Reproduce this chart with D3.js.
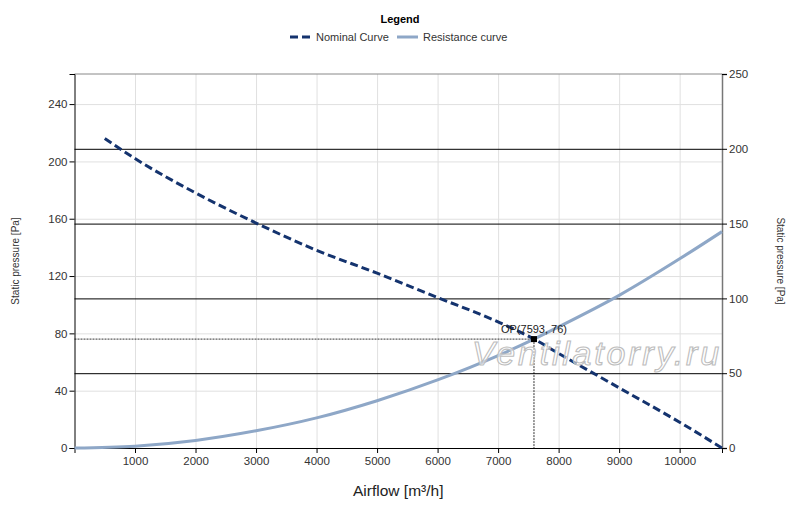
<html>
<head>
<script src="https://d3js.org/d3.v7.min.js"></script>
<style>
  body { margin: 0; background: #fff; }
  text { font-family: "Liberation Sans", Arial, sans-serif; }
  .tick text { fill: #333; font-size: 11.5px; }
  .grid line { stroke: #e0e0e0; }
  .grid .domain { stroke: none; }
  .major line { stroke: #000; }
  .major .domain { stroke: none; }
</style>
</head>
<body>
<svg id="chart" width="800" height="507"></svg>
<script>
// airflow [m3/h] and static pressure [Pa]
const nominalFlow = [500, 1000, 2000, 3000, 4000, 5000, 6000, 7000, 7593, 8000, 9000, 10000, 10700];
const nominalPressure = [216, 202, 178, 157, 138, 122, 105, 88, 76, 66, 42, 18, 0];
const resistanceFlow = [0, 1000, 2000, 3000, 4000, 5000, 6000, 7000, 7593, 8000, 9000, 10000, 10700];
const resistancePressure = [0, 1.3, 5.3, 12, 21, 33, 47.5, 64.5, 76, 84.5, 106.5, 132, 151];
const opPoint = {flow: 7593, pressure: 76};
const xTicks = [1000, 2000, 3000, 4000, 5000, 6000, 7000, 8000, 9000, 10000];
const leftTicks = [0, 40, 80, 120, 160, 200, 240];
const rightTicks = [0, 50, 100, 150, 200, 250];

const svg = d3.select("#chart");
const margin = {top: 74, right: 78, bottom: 59, left: 74.5};
const width = 800 - margin.left - margin.right;
const height = 507 - margin.top - margin.bottom;

const x = d3.scaleLinear().domain([0, 10700]).range([0, width]);
const yLeft = d3.scaleLinear().domain([0, 261]).range([height, 0]);
const yRight = d3.scaleLinear().domain([0, 250]).range([height, 0]);

const g = svg.append("g").attr("transform", `translate(${margin.left},${margin.top})`);

// light gridlines
g.append("g").attr("class", "grid")
  .attr("transform", `translate(0,${height})`)
  .call(d3.axisBottom(x).tickValues(xTicks).tickSize(-height).tickFormat(""));
g.append("g").attr("class", "grid")
  .call(d3.axisLeft(yLeft).tickValues(leftTicks.slice(1)).tickSize(-width).tickFormat(""));
// dark lines from the right axis
g.append("g").attr("class", "major")
  .call(d3.axisLeft(yRight).tickValues([50, 100, 150, 200]).tickSize(-width).tickFormat(""));

// frame top
g.append("line").attr("x1", 0).attr("x2", width).attr("y1", 0).attr("y2", 0)
  .attr("stroke", "#888");

// axes
const fmt = d3.format("d");
const bottomAxis = g.append("g")
  .attr("transform", `translate(0,${height})`)
  .call(d3.axisBottom(x).tickValues(xTicks).tickSize(5).tickPadding(4).tickFormat(fmt));
bottomAxis.select(".domain").attr("stroke", "#000");

const leftAxis = g.append("g")
  .call(d3.axisLeft(yLeft).tickValues(leftTicks).tickSize(5).tickPadding(2).tickFormat(fmt));
leftAxis.select(".domain").attr("stroke", "#000");

const rightAxis = g.append("g")
  .attr("transform", `translate(${width},0)`)
  .call(d3.axisRight(yRight).tickValues(rightTicks).tickSize(5).tickPadding(2).tickFormat(fmt));
rightAxis.select(".domain").attr("stroke", "#777").attr("stroke-width", 1.5);

// watermark
svg.append("text")
  .attr("x", 472).attr("y", 365)
  .attr("font-size", 34).attr("font-style", "italic")
  .attr("letter-spacing", 2.8)
  .attr("fill", "#fff").attr("fill-opacity", 0.55)
  .attr("stroke", "#bdbdbd").attr("stroke-width", 1.1)
  .text("Ventilatorry.ru");

// curves
const line = d3.line().x(d => x(d[0])).y(d => yLeft(d[1])).curve(d3.curveMonotoneX);

g.append("path")
  .datum(d3.zip(resistanceFlow, resistancePressure))
  .attr("d", line)
  .attr("fill", "none").attr("stroke", "#8ea7c7").attr("stroke-width", 3);

g.append("path")
  .datum(d3.zip(nominalFlow, nominalPressure))
  .attr("d", line)
  .attr("fill", "none").attr("stroke", "#14336e").attr("stroke-width", 3)
  .attr("stroke-dasharray", "8,4");

// operating point
const ox = x(opPoint.flow), oy = yLeft(opPoint.pressure);
g.append("line").attr("x1", 0).attr("x2", ox).attr("y1", oy).attr("y2", oy)
  .attr("stroke", "#000").attr("stroke-width", 0.8).attr("stroke-dasharray", "2,1");
g.append("line").attr("x1", ox).attr("x2", ox).attr("y1", oy).attr("y2", height)
  .attr("stroke", "#000").attr("stroke-width", 0.8).attr("stroke-dasharray", "2,1");
g.append("rect").attr("x", ox - 3).attr("y", oy - 3).attr("width", 6).attr("height", 6)
  .attr("fill", "#000");
g.append("text")
  .attr("x", ox).attr("y", oy - 6)
  .attr("text-anchor", "middle").attr("font-size", 11).attr("fill", "#222")
  .text(`OP(${opPoint.flow}, ${opPoint.pressure})`);

// axis titles
svg.append("text")
  .attr("transform", `translate(19,${margin.top + height / 2}) rotate(-90)`)
  .attr("text-anchor", "middle").attr("font-size", 10).attr("fill", "#333")
  .text("Static pressure [Pa]");
svg.append("text")
  .attr("transform", `translate(777,${margin.top + height / 2}) rotate(90)`)
  .attr("text-anchor", "middle").attr("font-size", 10).attr("fill", "#333")
  .text("Static pressure [Pa]");
svg.append("text")
  .attr("x", margin.left + width / 2).attr("y", 496)
  .attr("text-anchor", "middle").attr("font-size", 15.5).attr("fill", "#222")
  .text("Airflow [m³/h]");

// legend
const legend = svg.append("g");
legend.append("text").attr("x", 400).attr("y", 23)
  .attr("text-anchor", "middle").attr("font-size", 11).attr("font-weight", "bold")
  .text("Legend");
legend.append("line").attr("x1", 290).attr("x2", 312).attr("y1", 37).attr("y2", 37)
  .attr("stroke", "#14336e").attr("stroke-width", 3).attr("stroke-dasharray", "8,4");
legend.append("text").attr("x", 316).attr("y", 41).attr("font-size", 11).attr("fill", "#333")
  .text("Nominal Curve");
legend.append("line").attr("x1", 397).attr("x2", 418).attr("y1", 37).attr("y2", 37)
  .attr("stroke", "#8ea7c7").attr("stroke-width", 3);
legend.append("text").attr("x", 423).attr("y", 41).attr("font-size", 11).attr("fill", "#333")
  .text("Resistance curve");
</script>
</body>
</html>
